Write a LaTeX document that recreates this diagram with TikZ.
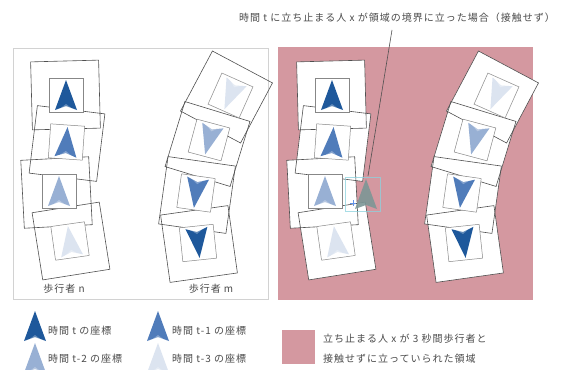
\documentclass[tikz,border=0pt]{standalone}
\usepackage{fontspec}
\newfontfamily\jp[LetterSpace=10]{Noto Sans CJK JP}
\definecolor{pinkarea}{RGB}{212,152,160}
\definecolor{panelgray}{RGB}{210,210,210}
\definecolor{ct}{RGB}{30,88,155}
\definecolor{ctone}{RGB}{80,124,186}
\definecolor{cttwo}{RGB}{152,176,212}
\definecolor{ctthree}{RGB}{220,228,240}
\definecolor{framegray}{RGB}{80,80,80}
\definecolor{innergray}{RGB}{135,135,135}
\definecolor{txtgray}{RGB}{75,75,75}
\definecolor{xgray}{RGB}{125,150,150}
\definecolor{xcyan}{RGB}{140,210,222}
\tikzset{
  walkframe/.style={draw=framegray, line width=0.6pt},
  innersq/.style={draw=innergray, line width=0.5pt},
  lbl/.style={font=\jp\fontsize{10}{12}\selectfont, text=txtgray, inner sep=0pt},
  leader/.style={draw=framegray, line width=0.6pt},
}
\newcommand\walkarrow[1]{%
  \fill[fill=#1] (0,-15) -- (11,15) -- (0,11) -- (-11,15) -- cycle;
  \fill[white,opacity=0.3] (-6,13.5) -- (0,9) -- (6,13.5) -- (0,11) -- cycle;}
\def\walkerlist{65.5/95/-1.5/66/95/0/ct/0,
  67/143.5/7/66.5/142/4/ctone/0,
  56.5/192.5/-3/59/191/0/cttwo/0,
  71/241/-9/70/241/-8/ctthree/0,
  226.5/97/28/230.5/95.5/24/ctthree/180,
  207.5/144/17/209/140/15/cttwo/180,
  197/195/8/196/193/8/ctone/180,
  199/244/-8/198/243/-6/ct/180}
\newcommand\walkerfills{%
  \foreach \fx/\fy/\fa/\ix/\iy/\ia/\col/\dir in \walkerlist {
    \fill[white, shift={(\fx,\fy)}, rotate={-1*(\fa)}] (-34,-34) rectangle (34,34);
  }}
\newcommand\walkerlines{%
  \foreach \fx/\fy/\fa/\ix/\iy/\ia/\col/\dir in \walkerlist {
    \draw[walkframe, shift={(\fx,\fy)}, rotate={-1*(\fa)}] (-34,-34) rectangle (34,34);
  }
  \foreach \fx/\fy/\fa/\ix/\iy/\ia/\col/\dir in \walkerlist {
    \begin{scope}[shift={(\ix,\iy)}, rotate={-1*(\ia)}]
      \fill[white] (-17,-17) rectangle (17,17);
      \draw[innersq] (-17,-17) rectangle (17,17);
      \begin{scope}[rotate=\dir]
        \walkarrow{\col}
      \end{scope}
    \end{scope}
  }}
\begin{document}
\begin{tikzpicture}[x=1pt,y=-1pt]
\useasboundingbox (0,0) rectangle (572,369);
\clip (0,0) rectangle (572,369);
\fill[white] (0,0) rectangle (572,369);

% panels
\draw[panelgray, line width=0.8pt, fill=white] (13,48) rectangle (268,299);
\fill[pinkarea] (278,47) rectangle (533,300);

% left panel walkers
\walkerlines
\node[lbl] (labn) at (64,289) {歩行者 n};
\node[lbl] (labm) at (211,289) {歩行者 m};

% right panel walkers
\begin{scope}[xshift=266pt]
  \walkerfills
  \walkerlines
\end{scope}

% stationary person x
\draw[xcyan, line width=0.6pt, opacity=0.75] (345,177) rectangle (380,211);
\begin{scope}[shift={(366,194)}]
  \fill[fill=xgray, opacity=0.9] (0,-15) -- (11,15) -- (0,11) -- (-11,15) -- cycle;
\end{scope}
\draw[xcyan!70!blue, line width=0.6pt] (350,203) -- (356,203) (353,200) -- (353,206);

% annotation
\node[lbl] (toptext) at (397,18) {時間 t に立ち止まる人 x が領域の境界に立った場合（接触せず）};
\coordinate (leadstart) at (392,30);
\coordinate (xpt) at (368,176);
\draw[leader] (leadstart) -- (xpt);

% legend
\begin{scope}[shift={(35,326)}] \walkarrow{ct} \end{scope}
\begin{scope}[shift={(158,326)}] \walkarrow{ctone} \end{scope}
\begin{scope}[shift={(35,358)}] \walkarrow{cttwo} \end{scope}
\begin{scope}[shift={(158,358)}] \walkarrow{ctthree} \end{scope}
\node[lbl, anchor=west] (lt) at (48,331) {時間 t の座標};
\node[lbl, anchor=west] (lt1) at (172,331) {時間 t-1 の座標};
\node[lbl, anchor=west] (lt2) at (48,359) {時間 t-2 の座標};
\node[lbl, anchor=west] (lt3) at (172,359) {時間 t-3 の座標};
\fill[pinkarea] (282,330) rectangle (315,364);
\node[lbl, anchor=west] (lp1) at (323,339) {立ち止まる人 x が 3 秒間歩行者と};
\node[lbl, anchor=west] (lp2) at (323,359) {接触せずに立っていられた領域};
\end{tikzpicture}
\end{document}
